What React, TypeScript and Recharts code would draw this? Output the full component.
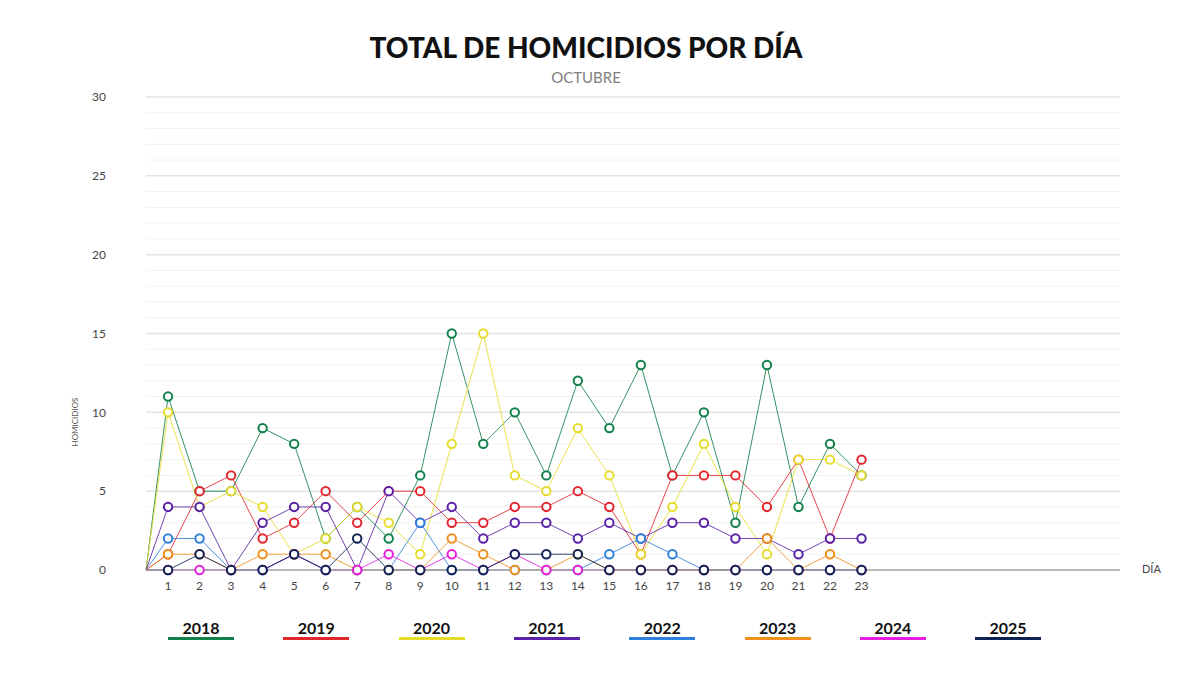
import React from 'react';
import { LineChart, Line, XAxis, YAxis, CartesianGrid } from 'recharts';

// days 1..23 of October; the series start at the origin point (START_DAY, 0)
const START_DAY = 0.3;
const DAYS = [1, 2, 3, 4, 5, 6, 7, 8, 9, 10, 11, 12, 13, 14, 15, 16, 17, 18, 19, 20, 21, 22, 23];

const Y2018 = [11, 5, 5, 9, 8, 2, 4, 2, 6, 15, 8, 10, 6, 12, 9, 13, 6, 10, 3, 13, 4, 8, 6];
const Y2019 = [1, 5, 6, 2, 3, 5, 3, 5, 5, 3, 3, 4, 4, 5, 4, 1, 6, 6, 6, 4, 7, 2, 7];
const Y2020 = [10, 4, 5, 4, 1, 2, 4, 3, 1, 8, 15, 6, 5, 9, 6, 1, 4, 8, 4, 1, 7, 7, 6];
const Y2021 = [4, 4, 0, 3, 4, 4, 0, 5, 3, 4, 2, 3, 3, 2, 3, 2, 3, 3, 2, 2, 1, 2, 2];
const Y2022 = [2, 2, 0, 0, 1, 0, 0, 0, 3, 0, 0, 0, 0, 0, 1, 2, 1, 0, 0, 0, 0, 0, 0];
const Y2023 = [1, 1, 0, 1, 1, 1, 0, 0, 0, 2, 1, 0, 0, 1, 0, 0, 0, 0, 0, 2, 0, 1, 0];
const Y2024 = [0, 0, 0, 0, 1, 0, 0, 1, 0, 1, 0, 1, 0, 0, 0, 0, 0, 0, 0, 0, 0, 0, 0];
const Y2025 = [0, 1, 0, 0, 1, 0, 2, 0, 0, 0, 0, 1, 1, 1, 0, 0, 0, 0, 0, 0, 0, 0, 0];

const YEARS = ['2018', '2019', '2020', '2021', '2022', '2023', '2024', '2025'];
const SERIES = [Y2018, Y2019, Y2020, Y2021, Y2022, Y2023, Y2024, Y2025];
const COLORS = ['#11804a', '#e3262d', '#e6dc2c', '#5a22a8', '#2f7fdc', '#f0901c', '#e61ee0', '#0e2253'];

const Y_TICKS = Array.from({ length: 31 }, (_, i) => i);

const data = [
  { day: START_DAY, ...Object.fromEntries(YEARS.map((y) => [y, 0])) },
  ...DAYS.map((d, i) => ({
    day: d,
    ...Object.fromEntries(YEARS.map((y, k) => [y, SERIES[k][i]])),
  })),
];

const FONT = 'Lato, "Open Sans", sans-serif';

const renderDot = (color: string) => (props: any) => {
  const { cx, cy, payload, index } = props;
  if (payload.day === START_DAY) return <g key={`d${index}`} />;
  return (
    <circle key={`d${index}`} cx={cx} cy={cy} r={4.2} fill="#fff" stroke={color} strokeWidth={2} />
  );
};

const gridLine = (props: any) => {
  const { x1, x2, y1, y2, index } = props;
  const strong = index % 5 === 0;
  return (
    <line
      key={`g${index}`}
      x1={x1}
      x2={x2}
      y1={y1}
      y2={y2}
      stroke={strong ? '#e4e4e4' : '#f2f2f2'}
      strokeWidth={strong ? 1.5 : 1}
    />
  );
};

export default function App() {
  return (
    <div style={{ position: 'absolute', left: 0, top: 0, width: 1200, height: 675, background: '#fff', fontFamily: FONT }}>
      <div style={{ position: 'absolute', left: 0, width: 1172, top: 30, textAlign: 'center', fontSize: 28, fontWeight: 900, color: '#111' }}>
        TOTAL DE HOMICIDIOS POR DÍA
      </div>
      <div style={{ position: 'absolute', left: 0, width: 1172, top: 68, textAlign: 'center', fontSize: 15, color: '#808080' }}>
        OCTUBRE
      </div>
      <div
        style={{
          position: 'absolute',
          left: 75,
          top: 422,
          transform: 'translate(-50%, -50%) rotate(-90deg)',
          fontSize: 8,
          color: '#555',
          whiteSpace: 'nowrap',
        }}
      >
        HOMICIDIOS
      </div>
      <div style={{ position: 'absolute', left: 1142, top: 562, fontSize: 11, color: '#444' }}>DÍA</div>

      <LineChart
        width={1200}
        height={675}
        data={data}
        margin={{ top: 97, right: 80, bottom: 75, left: 86 }}
        style={{ position: 'absolute', left: 0, top: 0 }}
      >
        <CartesianGrid vertical={false} horizontal={gridLine} />
        <XAxis
          dataKey="day"
          type="number"
          domain={[START_DAY, 31.2]}
          ticks={DAYS}
          interval={0}
          height={30}
          tickSize={0}
          tickMargin={11}
          axisLine={{ stroke: '#a8a8a8', strokeWidth: 1.5 }}
          tick={{ fill: '#444', fontSize: 12, fontFamily: FONT }}
        />
        <YAxis
          type="number"
          domain={[0, 30]}
          ticks={Y_TICKS}
          interval={0}
          width={60}
          tickSize={0}
          tickMargin={40}
          axisLine={false}
          tickFormatter={(v: number) => (v % 5 === 0 ? String(v) : '')}
          tick={{ fill: '#444', fontSize: 12, fontFamily: FONT }}
        />
        {YEARS.map((y, k) => (
          <Line
            key={y}
            dataKey={y}
            type="linear"
            stroke={COLORS[k]}
            strokeWidth={1}
            strokeOpacity={0.85}
            dot={renderDot(COLORS[k])}
            activeDot={false}
            isAnimationActive={false}
          />
        ))}
      </LineChart>

      {YEARS.map((y, k) => (
        <div
          key={y}
          style={{
            position: 'absolute',
            left: 168 + k * 115.3,
            top: 619,
            width: 66,
            textAlign: 'center',
            fontSize: 16,
            fontWeight: 700,
            color: '#111',
            borderBottom: `3px solid ${COLORS[k]}`,
            lineHeight: '18px',
          }}
        >
          {y}
        </div>
      ))}
    </div>
  );
}
